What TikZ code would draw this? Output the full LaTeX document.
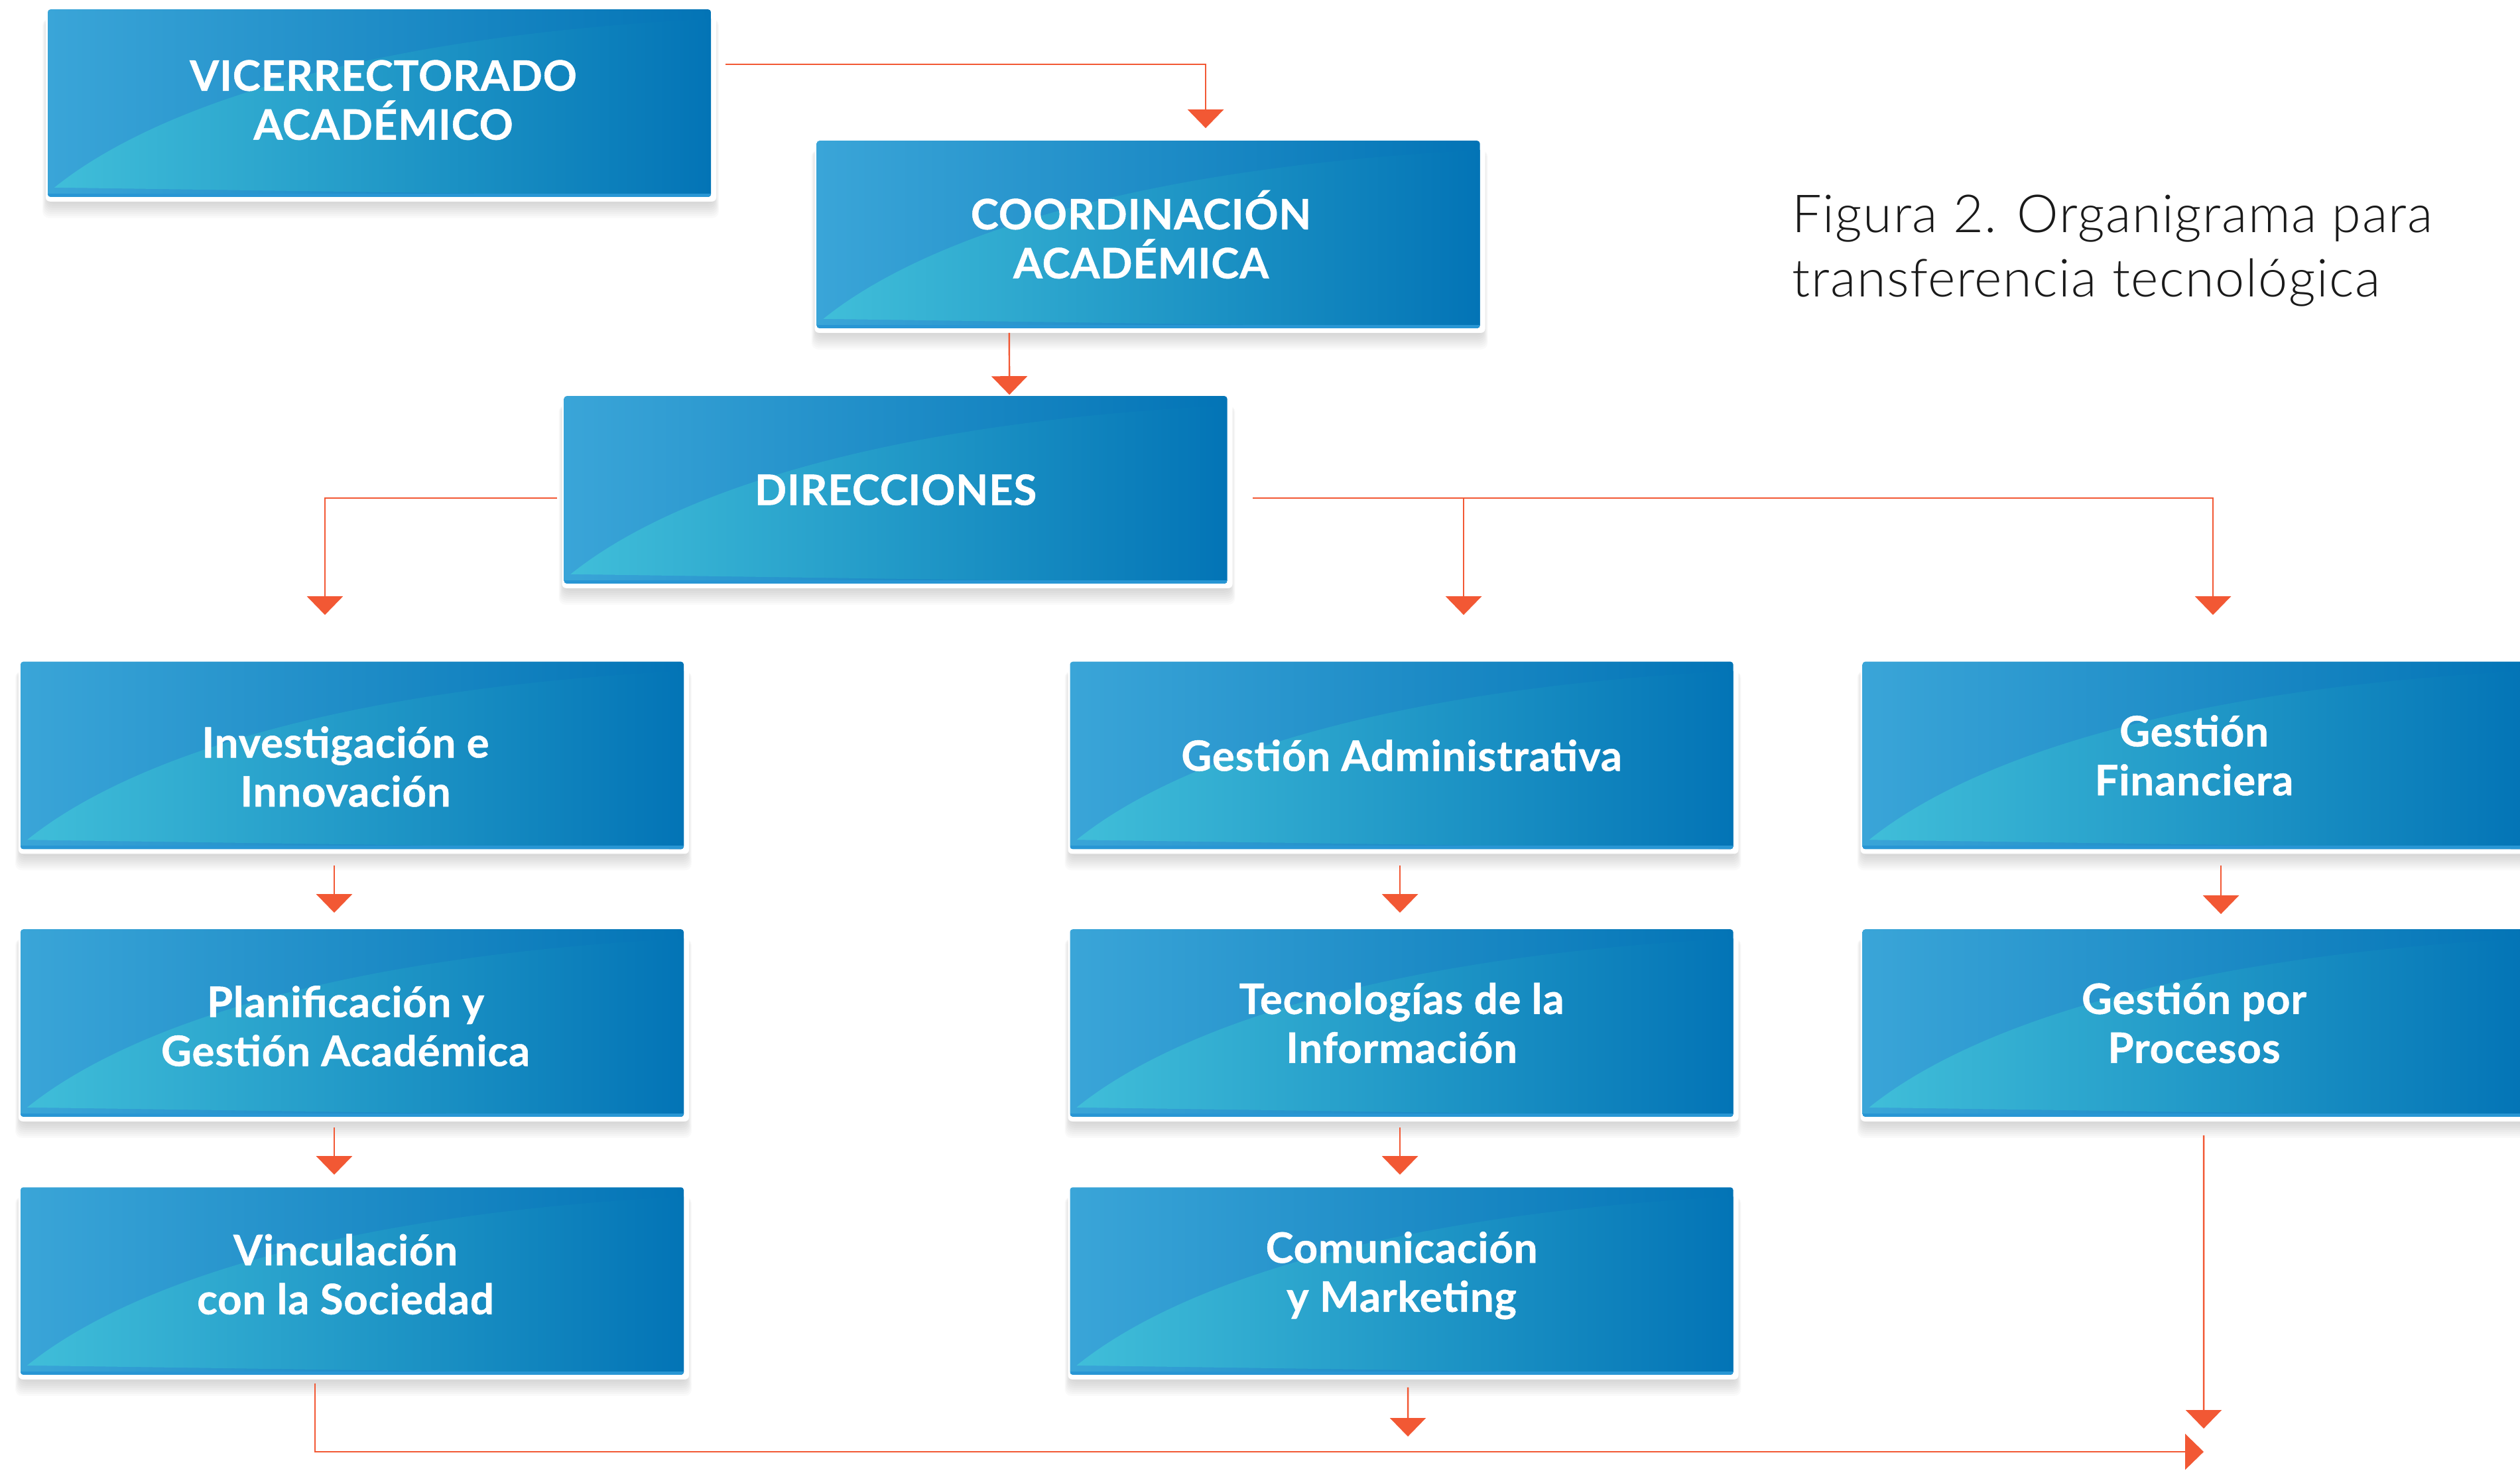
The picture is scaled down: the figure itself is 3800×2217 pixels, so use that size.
\documentclass[tikz,border=0pt]{standalone}
\usepackage{fontspec}
\usetikzlibrary{calc,arrows.meta}
\newfontfamily\boxfont{Lato}[LetterSpace=1.5,BoldFeatures={FakeBold=0.8}]
\newfontfamily\capfont{Lato Light}[LetterSpace=2]
\definecolor{boxL}{RGB}{58,165,216}
\definecolor{boxR}{RGB}{3,116,182}
\definecolor{arcL}{RGB}{64,190,217}
\definecolor{stripc}{RGB}{40,150,212}
\definecolor{lnc}{RGB}{242,88,52}
\definecolor{capc}{RGB}{26,26,26}
\pgfdeclarelayer{bg}
\pgfsetlayers{bg,main}
\newcommand\tstrut[1]{\rule{0pt}{#1}}
\newcommand\bstrut[1]{\rule[-#1]{0pt}{#1}}
\newcommand\rsp{\hspace*{0.2cm}}
\tikzset{
  orgbox/.style={minimum width=9.98cm, minimum height=2.81cm, inner sep=0pt,
    text=white, align=center, font=\boxfont\bfseries\fontsize{18}{21}\selectfont},
  conn/.style={draw=lnc, line width=0.7pt, -{Triangle[width=0.54cm,length=0.28cm,fill=lnc]}},
}
\newcommand\boxdeco[1]{%
  \begin{pgfonlayer}{bg}
    \foreach \i in {1,...,8}{
      \fill[black,opacity=0.018,rounded corners=0.1cm]
        ($(#1.north west)+(-\i,14)$) rectangle ($(#1.south east)+(4+\i,8+3*\i)$);
    }
    \fill[white,rounded corners=0.06cm] ($(#1.north west)+(-3,-3)$) rectangle ($(#1.south east)+(8,7)$);
    \shade[rounded corners=0.04cm,left color=boxL,right color=boxR] (#1.north west) rectangle (#1.south east);
    \begin{scope}
      \clip[rounded corners=0.04cm] (#1.north west) rectangle (#1.south east);
      \shade[left color=arcL,right color=boxR]
        ($(#1.south west)+(10,-14)$) .. controls ($(#1.south west)+(150,-127)$) and ($(#1.north east)+(-549,42)$) .. ($(#1.north east)+(0,14)$)
        -- (#1.south east) -- cycle;
      \fill[stripc] ($(#1.south west)+(0,-5)$) rectangle (#1.south east);
    \end{scope}
  \end{pgfonlayer}}
\begin{document}
\begin{tikzpicture}[x=0.01cm,y=-0.01cm]
\useasboundingbox (0,0) rectangle (3800,2217);
% boxes
\node[orgbox] (vice)  at (572,155.5)    {\hspace*{0.12cm}VICERRECTORADO\\\hspace*{0.12cm}ACADÉMICO\bstrut{2.8pt}};
\node[orgbox] (coord) at (1731.5,353.5) {COORDINACIÓN\hspace*{0.22cm}\\ACADÉMICA\hspace*{0.22cm}};
\node[orgbox] (dir)   at (1350.5,738.5) {DIRECCIONES};
\node[orgbox] (inv)   at (531,1139)     {\tstrut{23pt}Investigación e\rsp\\Innovación\rsp};
\node[orgbox] (plan)  at (531,1542.5)   {\tstrut{16pt}Planificación y\rsp\\Gestión Académica\rsp};
\node[orgbox] (vinc)  at (531,1931.5)   {Vinculación\rsp\\con la Sociedad\rsp\bstrut{5.9pt}};
\node[orgbox] (gadm)  at (2113.5,1139)  {Gestión Administrativa};
\node[orgbox] (tec)   at (2113.5,1542.5){Tecnologías de la\\Información};
\node[orgbox] (com)   at (2113.5,1931.5){Comunicación\\y Marketing\bstrut{8pt}};
\node[orgbox] (gfin)  at (3308.5,1139)  {Gestión\\Financiera};
\node[orgbox] (proc)  at (3308.5,1542.5){Gestión por\\Procesos};
\foreach \n in {vice,coord,dir,inv,plan,vinc,gadm,tec,com,gfin,proc}{\boxdeco{\n}}
% caption
\node[anchor=north west, inner sep=0pt, align=left, text=capc,
  font=\capfont\fontsize{22.5}{27.5}\selectfont] (cap) at (2702,293)
  {Figura 2. Organigrama para\\transferencia tecnológica};
% free end points
\coordinate (endM) at (2123,2166);
\coordinate (endR) at (3323,2154);
\coordinate (endB) at (3323,2189);
% connectors
\draw[conn] ([xshift=0.22cm,yshift=0.585cm]vice.east) -| ([xshift=0.865cm,yshift=0.19cm]coord.north);
\draw[conn] ([xshift=-2.095cm,yshift=-0.07cm]coord.south) -- ([xshift=1.715cm,yshift=0.02cm]dir.north);
\draw[conn] ([xshift=-0.105cm,yshift=-0.125cm]dir.west) -| ([xshift=-0.41cm,yshift=0.705cm]inv.north);
\draw[conn] ([xshift=0.385cm,yshift=-0.125cm]dir.east) -| ([xshift=0.935cm,yshift=0.705cm]gadm.north);
\draw[conn] ([xshift=0.385cm,yshift=-0.125cm]dir.east) -| ([xshift=0.285cm,yshift=0.705cm]gfin.north);
\draw[conn] ([xshift=-0.27cm,yshift=-0.245cm]inv.south) -- ([xshift=-0.27cm,yshift=0.25cm]plan.north);
\draw[conn] ([xshift=-0.27cm,yshift=-0.16cm]plan.south) -- ([xshift=-0.27cm,yshift=0.19cm]vinc.north);
\draw[conn] ([xshift=-0.025cm,yshift=-0.245cm]gadm.south) -- ([xshift=-0.025cm,yshift=0.25cm]tec.north);
\draw[conn] ([xshift=-0.025cm,yshift=-0.16cm]tec.south) -- ([xshift=-0.025cm,yshift=0.19cm]com.north);
\draw[conn] ([xshift=0.405cm,yshift=-0.245cm]gfin.south) -- ([xshift=0.405cm,yshift=0.23cm]proc.north);
\draw[conn] ([xshift=0.095cm,yshift=-0.19cm]com.south) -- (endM);
\draw[conn] ([xshift=0.145cm,yshift=-0.28cm]proc.south) -- (endR);
\draw[conn] ([xshift=-0.56cm,yshift=-0.13cm]vinc.south) |- (endB);
\end{tikzpicture}
\end{document}
